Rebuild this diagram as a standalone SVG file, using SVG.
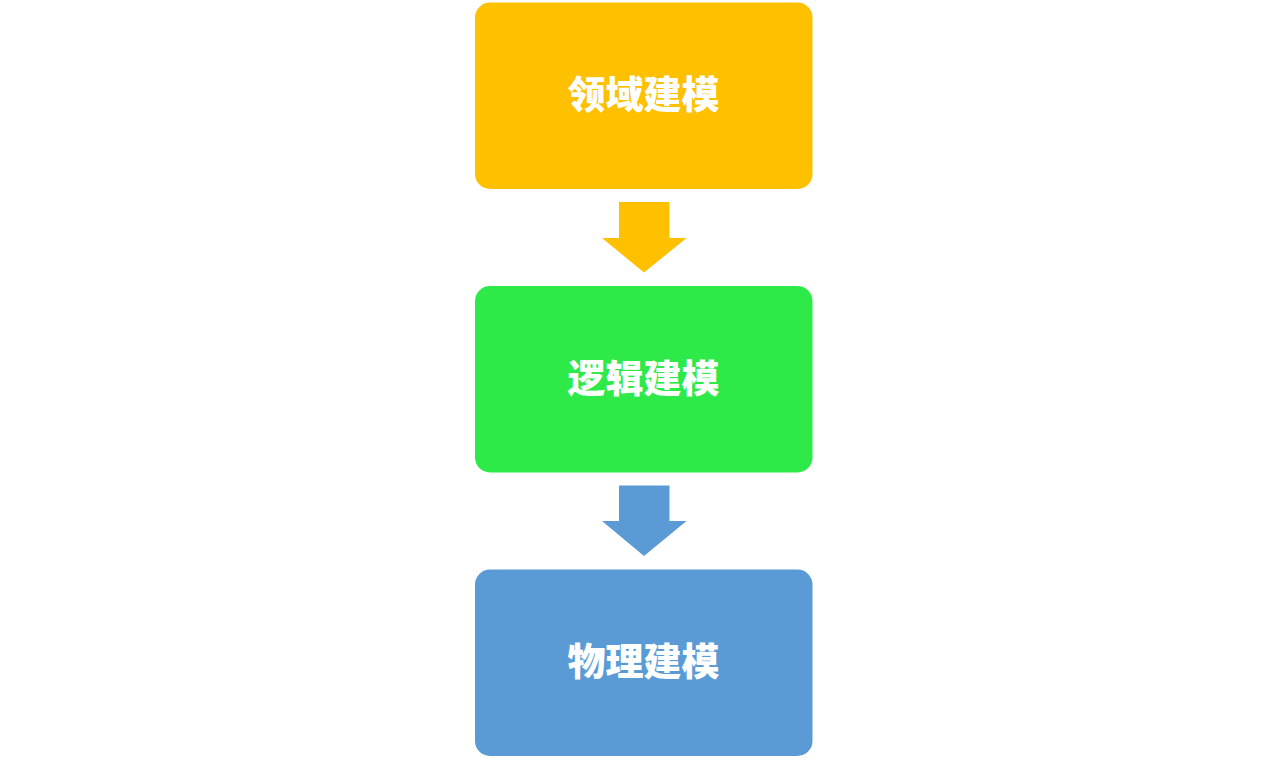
<svg xmlns="http://www.w3.org/2000/svg" width="1285" height="758" viewBox="0 0 1285 758">
<style>
.box{stroke:none}
.lbl{font-family:"Noto Sans CJK SC","Noto Sans",sans-serif;font-weight:900;font-size:38px;fill:#ffffff;text-anchor:middle;dominant-baseline:central}
</style>
<rect width="1285" height="758" fill="#ffffff"/>
<g id="connectors">
<polygon id="arrow1" points="619,202 669.5,202 669.5,238 686.5,238 644,272.5 602,238 619,238" fill="#FFC000"/>
<polygon id="arrow2" points="619,485.5 669.5,485.5 669.5,521 686.5,521 644,556 602,521 619,521" fill="#5B9BD5"/>
</g>
<g id="node1">
<rect class="box" x="475" y="2.5" width="337.5" height="186.5" rx="15" fill="#FFC000"/>
<text class="lbl" x="643.5" y="91.5">领域建模</text>
</g>
<g id="node2">
<rect class="box" x="475" y="286" width="337.5" height="186.5" rx="15" fill="#2EEA48"/>
<text class="lbl" x="643.5" y="375.5">逻辑建模</text>
</g>
<g id="node3">
<rect class="box" x="475" y="569.5" width="337.5" height="186.5" rx="15" fill="#5B9BD5"/>
<text class="lbl" x="643.5" y="658.5">物理建模</text>
</g>
</svg>
